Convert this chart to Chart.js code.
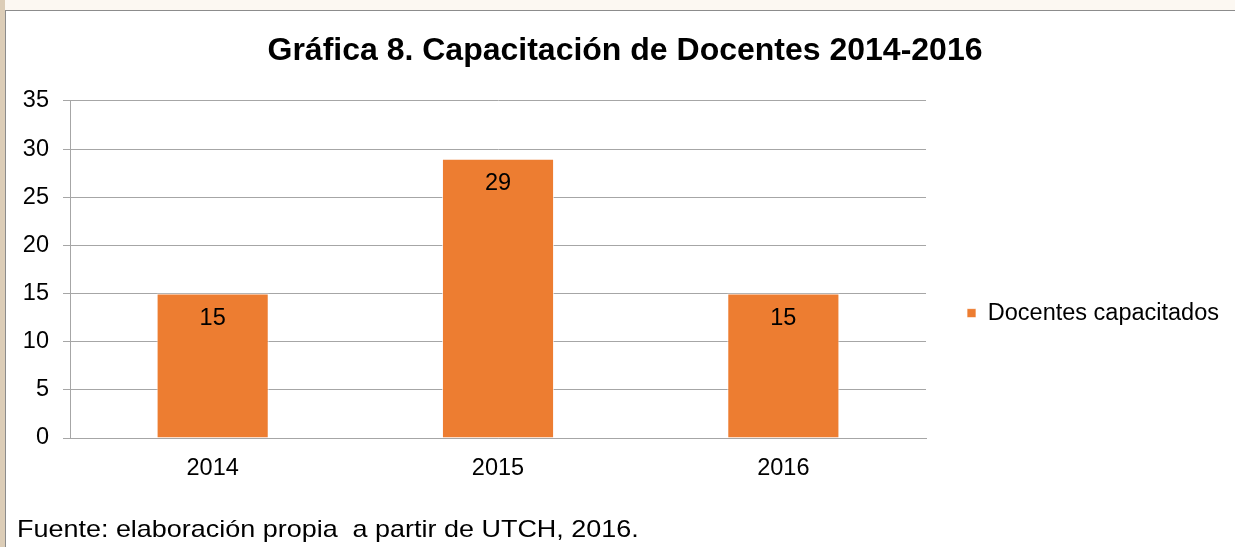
<!DOCTYPE html>
<html>
<head>
<meta charset="utf-8">
<script src="https://cdn.jsdelivr.net/npm/chart.js@4"></script>
<style>
html,body{margin:0;padding:0;width:1235px;height:547px;overflow:hidden;background:#fcf8f2;font-family:"Liberation Sans",Arial,sans-serif;}
#strip{position:absolute;left:0;top:0;width:5px;height:547px;background:#dccdb7;}
#box{position:absolute;left:5px;top:10px;width:1250px;height:560px;border:1px solid #8c8c8c;background:#fff;}
#wrap{position:absolute;left:0;top:0;width:1235px;height:547px;}
#note{position:absolute;left:17px;top:515px;font-size:24px;line-height:28px;white-space:pre;color:#000;transform:scaleX(1.123);transform-origin:0 0;}
</style>
</head>
<body>
<div id="strip"></div>
<div id="box"></div>
<div id="wrap"><canvas id="c" width="1235" height="547"></canvas></div>
<div id="note">Fuente: elaboración propia  a partir de UTCH, 2016.</div>
<script>
const titleText = 'Gráfica 8. Capacitación de Docentes 2014-2016';
const categories = ['2014', '2015', '2016'];
const seriesName = 'Docentes capacitados';
const docentes = [15, 29, 15];
const yMin = 0;
const yMax = 35;
const yStep = 5;

const FONT = '"Liberation Sans", Arial, sans-serif';

const barLabels = {
  id: 'barLabels',
  afterDatasetsDraw(chart) {
    const ctx = chart.ctx;
    chart.data.datasets.forEach((ds, i) => {
      chart.getDatasetMeta(i).data.forEach((bar, j) => {
        ctx.save();
        ctx.font = '23.5px ' + FONT;
        ctx.fillStyle = '#000';
        ctx.textAlign = 'center';
        ctx.textBaseline = 'middle';
        ctx.fillText(String(ds.data[j]), bar.x, bar.y + 25);
        ctx.restore();
      });
    });
  }
};

new Chart(document.getElementById('c'), {
  type: 'bar',
  data: {
    labels: categories,
    datasets: [{
      label: seriesName,
      data: docentes,
      backgroundColor: '#ED7D31',
      borderColor: 'rgba(255,255,255,0.7)',
      borderWidth: 1,
      categoryPercentage: 1.0,
      barPercentage: 0.393,
      yAxisID: 'y'
    }]
  },
  options: {
    responsive: false,
    animation: false,
    devicePixelRatio: 1,
    layout: { padding: { left: 21, right: 6, top: 0, bottom: 0 } },
    plugins: {
      title: {
        display: true,
        text: titleText,
        color: '#000',
        font: { family: FONT, size: 32, weight: 'bold' },
        padding: { top: 31.5, bottom: 31 }
      },
      legend: {
        display: true,
        position: 'right',
        title: {
          display: true,
          text: ' ',
          font: { family: FONT, size: 1 },
          padding: { top: 39, bottom: 39 }
        },
        labels: {
          color: '#000',
          font: { family: FONT, size: 23.5 },
          boxWidth: 9,
          boxHeight: 9,
          padding: 10
        }
      },
      tooltip: { enabled: false }
    },
    scales: {
      x: {
        grid: { display: false, drawTicks: false },
        border: { display: true, color: '#a6a6a6' },
        ticks: { color: '#000', font: { family: FONT, size: 23.5 }, padding: 16 },
        afterFit: s => { s.height = 109; }
      },
      y: {
        min: yMin,
        max: yMax,
        ticks: { stepSize: yStep, color: '#000', font: { family: FONT, size: 23.5 }, padding: 14 },
        grid: { color: '#a6a6a6', tickLength: 7, drawTicks: true },
        border: { display: true, color: '#a6a6a6' },
        afterFit: s => { s.width = 49; }
      },
      gap: {
        type: 'linear',
        position: 'right',
        display: false,
        afterFit: s => { s.width = 31; }
      }
    }
  },
  plugins: [barLabels]
});
</script>
</body>
</html>
